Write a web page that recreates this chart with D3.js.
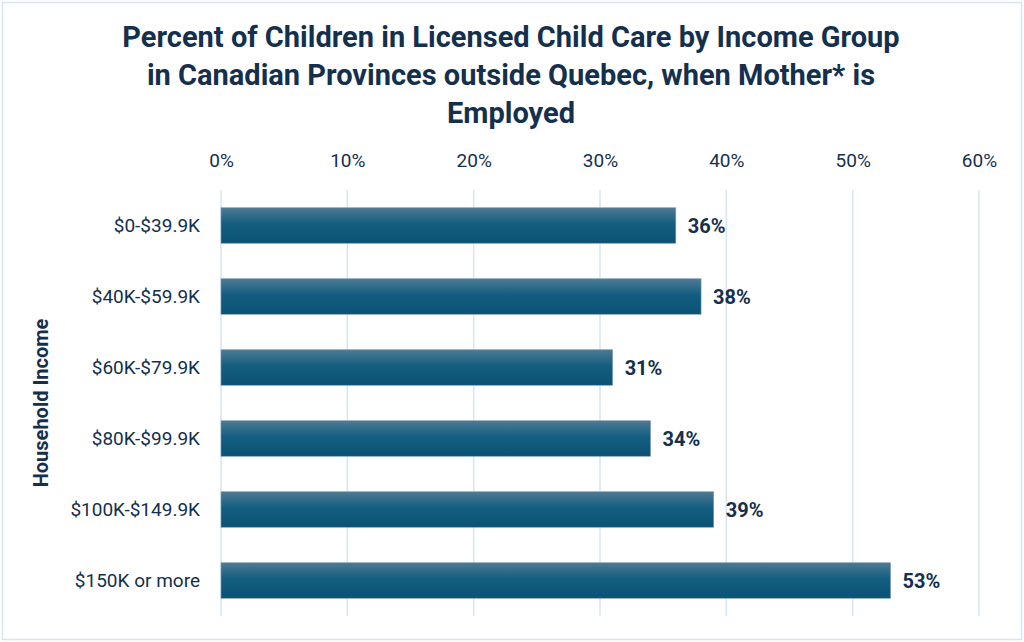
<!DOCTYPE html>
<html>
<head>
<meta charset="utf-8">
<script src="https://cdn.jsdelivr.net/npm/d3@7"></script>
<style>
  body { margin: 0; background: #fff; }
  text { font-family: Roboto, "Noto Sans", sans-serif; }
</style>
</head>
<body>
<div class="chart"></div>
<script>
// data
const categories = ['$0-$39.9K', '$40K-$59.9K', '$60K-$79.9K', '$80K-$99.9K', '$100K-$149.9K', '$150K or more'];
const values = [36, 38, 31, 34, 39, 53];
const tickValues = [0, 10, 20, 30, 40, 50, 60];
const titleLines = ['Percent of Children in Licensed Child Care by Income Group',
  'in Canadian Provinces outside Quebec, when Mother* is',
  'Employed'];

const width = 1024, height = 642;
const margin = { top: 190, left: 221, right: 45, bottom: 26 };
const innerH = height - margin.top - margin.bottom;
const navy = '#14304d';

const svg = d3.select('.chart').append('svg')
  .attr('width', width)
  .attr('height', height);

// gradient for bars
const grad = svg.append('defs').append('linearGradient')
  .attr('id', 'barGrad')
  .attr('x1', 0).attr('y1', 0).attr('x2', 0).attr('y2', 1);
grad.append('stop').attr('offset', '0%').attr('stop-color', '#4f7a93');
grad.append('stop').attr('offset', '45%').attr('stop-color', '#135e80');
grad.append('stop').attr('offset', '100%').attr('stop-color', '#0b5275');

// outer border
svg.append('rect')
  .attr('x', 2.5).attr('y', 2.5)
  .attr('width', width - 5).attr('height', height - 5)
  .attr('fill', 'none')
  .attr('stroke', '#d6e4f5')
  .attr('stroke-width', 1.5);

// title
svg.append('g').selectAll('text')
  .data(titleLines)
  .join('text')
  .attr('x', 511)
  .attr('y', (d, i) => 47 + i * 38)
  .attr('text-anchor', 'middle')
  .style('font-size', '29px')
  .style('font-weight', 700)
  .style('fill', navy)
  .text(d => d);

const x = d3.scaleLinear().domain([0, 60]).range([0, 758]);
const y = d3.scaleBand().domain(categories).range([0, innerH]).paddingInner(0.5).paddingOuter(0.25);

const g = svg.append('g')
  .attr('transform', `translate(${margin.left}, ${margin.top})`);

// gridlines
g.append('g').selectAll('line')
  .data(tickValues)
  .join('line')
  .attr('x1', d => x(d)).attr('x2', d => x(d))
  .attr('y1', 0).attr('y2', innerH)
  .attr('stroke', '#d6e4f5')
  .attr('stroke-width', 1.5);

// top axis
const xAxis = g.append('g')
  .call(d3.axisTop(x).tickValues(tickValues).tickFormat(d => d + '%').tickSize(0).tickPadding(23));
xAxis.select('.domain').remove();
xAxis.selectAll('text')
  .style('font-size', '19px')
  .style('fill', navy);

// category axis
const yAxis = g.append('g')
  .call(d3.axisLeft(y).tickSize(0).tickPadding(21));
yAxis.select('.domain').remove();
yAxis.selectAll('text')
  .style('font-size', '19px')
  .style('fill', navy);

// bars
g.append('g').selectAll('rect')
  .data(values)
  .join('rect')
  .attr('x', 0)
  .attr('y', (d, i) => y(categories[i]))
  .attr('width', d => x(d))
  .attr('height', y.bandwidth())
  .attr('fill', 'url(#barGrad)')
  .attr('stroke', '#7d9bb0')
  .attr('stroke-width', 0.6);

// value labels
g.append('g').selectAll('text')
  .data(values)
  .join('text')
  .attr('x', d => x(d) + 12)
  .attr('y', (d, i) => y(categories[i]) + y.bandwidth() / 2)
  .attr('dy', '0.35em')
  .style('font-size', '20px')
  .style('font-weight', 700)
  .style('fill', navy)
  .text(d => d + '%');

// y axis title
svg.append('text')
  .attr('transform', `translate(48, ${margin.top + innerH / 2}) rotate(-90)`)
  .attr('text-anchor', 'middle')
  .style('font-size', '20px')
  .style('font-weight', 700)
  .style('fill', navy)
  .text('Household Income');
</script>
</body>
</html>
